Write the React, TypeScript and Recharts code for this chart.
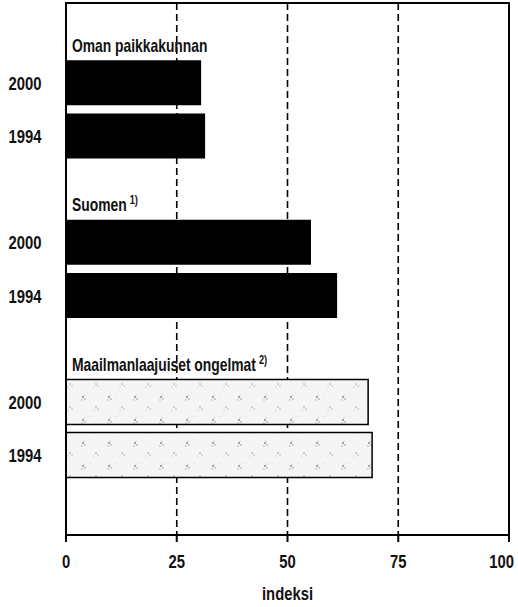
import React from "react";
import { BarChart, Bar, XAxis, YAxis, CartesianGrid, ReferenceArea, Cell } from "recharts";

const rowKeys = ["h1", "o2000", "o1994", "h2", "s2000", "s1994", "h3", "m2000", "m1994", "pad"];
const rowKinds = ["header", "bar", "bar", "header", "bar", "bar", "header", "bar", "bar", "pad"];
const rowLabels = ["Oman paikkakunnan", "2000", "1994", "Suomen", "2000", "1994", "Maailmanlaajuiset ongelmat", "2000", "1994", ""];
const rowSup = ["", "", "", "1)", "", "", "2)", "", "", ""];
const rowGroup = [0, 0, 0, 1, 1, 1, 2, 2, 2, 3];
const values: (number | null)[] = [null, 30.5, 31.4, null, 55.3, 61.2, null, 68.2, 69.1, null];
const xTicks = [0, 25, 50, 75, 100];
const axisTitle = "indeksi";

const FONT = "'Liberation Sans', Arial, sans-serif";

const CText = ({ x, y, size, anchor, children, sx }: any) => (
  <text
    transform={`translate(${x},${y}) scale(${sx || 0.78},1)`}
    x={0}
    y={0}
    fontSize={size}
    fontFamily={FONT}
    fontWeight="bold"
    fill="#111"
    textAnchor={anchor || "start"}
  >
    {children}
  </text>
);

const data = rowKeys.map((k, i) => ({ key: k, value: values[i] }));

const YTick = (props: any) => {
  const { y, payload } = props;
  const i = rowKeys.indexOf(payload.value);
  if (i < 0) return null;
  if (rowKinds[i] === "header") {
    return (
      <CText x={72} y={y + 22} size={18} sx={0.77}>
        {rowLabels[i]}
        {rowSup[i] ? (
          <tspan dx={4} dy={-7} fontSize={12}>
            {rowSup[i]}
          </tspan>
        ) : null}
      </CText>
    );
  }
  if (rowKinds[i] === "bar") {
    return (
      <CText x={25} y={y + 7} size={19} anchor="middle">
        {rowLabels[i]}
      </CText>
    );
  }
  return null;
};

const XTick = (props: any) => {
  const { x, y, payload, index } = props;
  const last = index === xTicks.length - 1;
  return (
    <CText x={last ? x + 8 : x} y={y + 24} size={19} anchor={last ? "end" : "middle"}>
      {payload.value}
    </CText>
  );
};

const XTitle = (props: any) => {
  const { viewBox } = props;
  const cx = viewBox.x + viewBox.width / 2;
  return (
    <CText x={cx} y={600} size={19} anchor="middle">
      {axisTitle}
    </CText>
  );
};

export default function App() {
  return (
    <div style={{ position: "absolute", left: 0, top: 0, background: "#fff" }}>
      <BarChart
        width={518}
        height={607}
        data={data}
        layout="vertical"
        margin={{ top: 3, right: 9, bottom: 0, left: 0 }}
      >
        <defs>
          <pattern id="speck" width="26" height="23" patternUnits="userSpaceOnUse">
            <rect x="0" y="0" width="26" height="23" fill="#f5f5f5" />
            <circle cx="5" cy="6" r="1" fill="#8a8a8a" />
            <circle cx="7" cy="8" r="0.8" fill="#9a9a9a" />
            <circle cx="4" cy="9" r="0.7" fill="#a0a0a0" />
            <circle cx="6" cy="4" r="0.6" fill="#b0b0b0" />
            <circle cx="18" cy="16" r="0.8" fill="#a0a0a0" />
            <circle cx="20" cy="18" r="0.7" fill="#aaa" />
            <circle cx="16" cy="19" r="0.6" fill="#b5b5b5" />
            <circle cx="12" cy="3" r="0.5" fill="#c5c5c5" />
          </pattern>
        </defs>
        <CartesianGrid
          horizontal={false}
          vertical={true}
          stroke="#000"
          strokeWidth={1.6}
          strokeDasharray="7 4"
        />
        <XAxis
          type="number"
          domain={[0, 100]}
          ticks={xTicks}
          height={72}
          axisLine={{ stroke: "#000", strokeWidth: 2 }}
          tickLine={{ stroke: "#000", strokeWidth: 2 }}
          tickSize={7}
          tick={<XTick />}
          label={<XTitle />}
        />
        <YAxis
          type="category"
          dataKey="key"
          width={66}
          axisLine={{ stroke: "#000", strokeWidth: 2 }}
          tickLine={false}
          tick={<YTick />}
          interval={0}
        />
        <ReferenceArea x1={0} x2={100} fill="none" fillOpacity={0} stroke="#000" strokeWidth={2} />
        <Bar dataKey="value" barSize={45} isAnimationActive={false}>
          {data.map((d, i) => (
            <Cell
              key={d.key}
              fill={rowGroup[i] === 2 ? "url(#speck)" : "#000"}
              stroke={rowGroup[i] === 2 ? "#000" : "none"}
              strokeWidth={rowGroup[i] === 2 ? 1.5 : 0}
            />
          ))}
        </Bar>
      </BarChart>
    </div>
  );
}
